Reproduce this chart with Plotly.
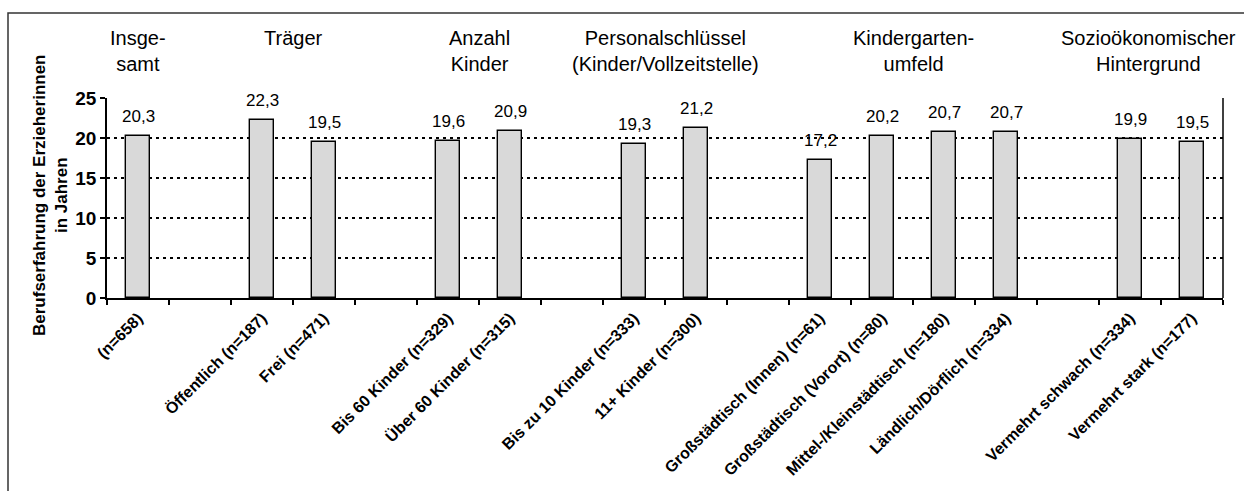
import plotly.graph_objects as go

# Slot positions on the x axis (empty slots separate the groups)
positions = [0, 2, 3, 5, 6, 8, 9, 11, 12, 13, 14, 16, 17]
labels = [
    "(n=658)",
    "Öffentlich (n=187)",
    "Frei (n=471)",
    "Bis 60 Kinder (n=329)",
    "Über 60 Kinder (n=315)",
    "Bis zu 10 Kinder (n=333)",
    "11+ Kinder (n=300)",
    "Großstädtisch (Innen) (n=61)",
    "Großstädtisch (Vorort) (n=80)",
    "Mittel-/Kleinstädtisch (n=180)",
    "Ländlich/Dörflich (n=334)",
    "Vermehrt schwach (n=334)",
    "Vermehrt stark (n=177)",
]
values = [20.3, 22.3, 19.5, 19.6, 20.9, 19.3, 21.2, 17.2, 20.2, 20.7, 20.7, 19.9, 19.5]

group_titles = [
    "Insge-<br>samt",
    "Träger",
    "Anzahl<br>Kinder",
    "Personalschlüssel<br>(Kinder/Vollzeitstelle)",
    "Kindergarten-<br>umfeld",
    "Sozioökonomischer<br>Hintergrund",
]
group_centers = [0, 2.5, 5.5, 8.5, 12.5, 16.3]

FONT = "Liberation Sans, Arial, sans-serif"

W, H = 1244, 491
L, R, T, B = 107, 21, 98, 193
plot_w = W - L - R
plot_h = H - T - B


def px_x(px):
    return (px - L) / plot_w


def px_y(py):
    return (H - B - py) / plot_h


fig = go.Figure()
fig.add_trace(go.Bar(
    x=positions,
    y=values,
    width=0.39,
    marker=dict(color="#d9d9d9", line=dict(color="black", width=1.4)),
    hoverinfo="skip",
))

# Value labels above bars
for x, v in zip(positions, values):
    fig.add_annotation(
        x=x, y=v, text=f"{v:.1f}".replace(".", ","),
        showarrow=False, yanchor="bottom", yshift=8,
        font=dict(family=FONT, size=17, color="black"),
    )

# Group headings (first lines aligned at the top)
for x, t in zip(group_centers, group_titles):
    fig.add_annotation(
        x=x, xref="x", y=px_y(25), yref="paper", text=t,
        showarrow=False, yanchor="top", xanchor="center",
        font=dict(family=FONT, size=20, color="black"),
    )

# Y axis title
fig.add_annotation(
    x=px_x(50), xref="paper", y=px_y(195), yref="paper",
    text="<b>Berufserfahrung der Erzieherinnen<br>in Jahren</b>",
    textangle=-90, showarrow=False, xanchor="center", yanchor="middle",
    font=dict(family=FONT, size=17, color="black"),
)

# Plot area right border
fig.add_shape(type="line", xref="paper", yref="paper",
              x0=1, x1=1, y0=0, y1=1, line=dict(color="black", width=1.5))

# Outer chart frame
fig.add_shape(type="rect", xref="paper", yref="paper",
              x0=px_x(8), x1=px_x(1260), y0=px_y(13), y1=px_y(510),
              line=dict(color="#333333", width=1.5), layer="below")

fig.update_layout(
    width=W, height=H,
    margin=dict(l=L, r=R, t=T, b=B, pad=0, autoexpand=False),
    paper_bgcolor="white", plot_bgcolor="white",
    showlegend=False,
    bargap=0,
    font=dict(family=FONT, color="black"),
)

fig.update_xaxes(
    range=[-0.5, 17.5],
    tickmode="array",
    tickvals=positions,
    ticktext=[f"<b>{t}</b>" for t in labels],
    tickangle=-45,
    tickfont=dict(family=FONT, size=16, color="black"),
    ticks="",
    ticklabelstandoff=3,
    automargin=False,
    showline=True, linecolor="black", linewidth=1.5,
    showgrid=False, zeroline=False,
    minor=dict(tick0=-0.5, dtick=1, ticks="outside", ticklen=5,
               tickcolor="black", tickwidth=1.5, showgrid=False),
    fixedrange=True,
)

fig.update_yaxes(
    range=[0, 25],
    tick0=0, dtick=5,
    ticks="outside", ticklen=5, tickcolor="black", tickwidth=1.5,
    tickfont=dict(family=FONT, size=19, color="black"),
    tickprefix="<b>", ticksuffix="</b>",
    automargin=False,
    showline=True, linecolor="black", linewidth=1.5,
    showgrid=True, gridcolor="black", gridwidth=1.5, griddash="3px,4px",
    zeroline=False,
    fixedrange=True,
)

fig.write_html("out.html", config={"displayModeBar": False})
